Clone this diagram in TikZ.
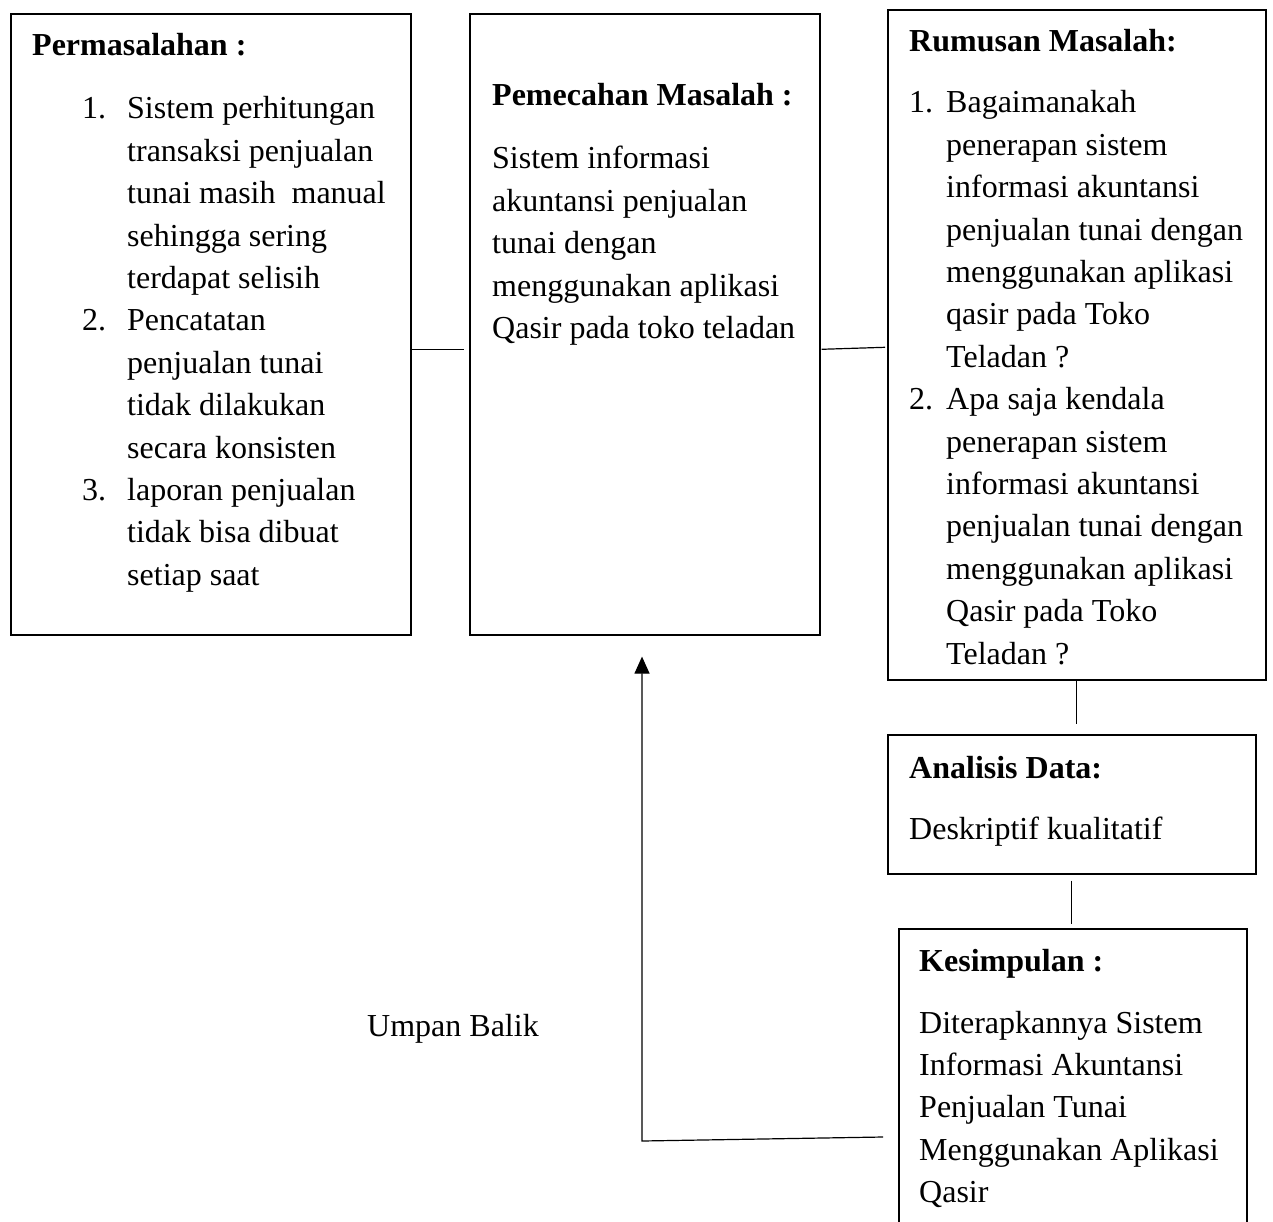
\documentclass[tikz,border=0pt]{standalone}
\usepackage{fontspec}
\setmainfont{Liberation Serif}
\usetikzlibrary{positioning,arrows.meta}

\newcommand{\baris}[1]{\begin{tabular}[t]{@{}l@{}}#1\end{tabular}}

\begin{document}
\begin{tikzpicture}[x=1pt, y=-1pt,
  kotak/.style={draw, line width=1.6pt, inner sep=0pt, anchor=north west},
  teks/.style={inner sep=0pt, anchor=base west, font=\fontsize{32}{42.4}\selectfont},
  judul/.style={teks, font=\fontsize{32}{42.4}\selectfont\bfseries},
  garis/.style={line width=1.2pt}]

  \useasboundingbox (0,0) rectangle (1273,1222);
  \clip (0,0) rectangle (1273,1222);

  % Kotak
  \node (b1) at (10,13) [kotak, minimum width=400pt, minimum height=621pt] {};
  \node (b2) at (469,13) [kotak, minimum width=350pt, minimum height=621pt] {};
  \node (b3) at (887,9) [kotak, minimum width=378pt, minimum height=670pt] {};
  \node (b4) at (887,734) [kotak, minimum width=368pt, minimum height=139pt] {};
  \node (b5) at (898,928) [kotak, minimum width=348pt, minimum height=320pt] {};

  % Permasalahan
  \node (h1) at (32,56) [judul] {Permasalahan :};
  \node (t1) at (82,119) [teks] {\begin{tabular}[t]{@{}p{45pt}@{}l@{}}
    1. & Sistem perhitungan\\
       & transaksi penjualan\\
       & tunai masih\ \ manual\\
       & sehingga sering\\
       & terdapat selisih\\
    2. & Pencatatan\\
       & penjualan tunai\\
       & tidak dilakukan\\
       & secara konsisten\\
    3. & laporan penjualan\\
       & tidak bisa dibuat\\
       & setiap saat
  \end{tabular}};

  % Pemecahan masalah
  \node (h2) at (492,106) [judul] {Pemecahan Masalah :};
  \node (t2) at (492,169) [teks] {\baris{Sistem informasi\\ akuntansi penjualan\\ tunai dengan\\
    menggunakan aplikasi\\ Qasir pada toko teladan}};

  % Rumusan masalah
  \node (h3) at (909,52) [judul] {Rumusan Masalah:};
  \node (t3) at (909,113) [teks] {\begin{tabular}[t]{@{}p{37pt}@{}l@{}}
    1. & Bagaimanakah\\
       & penerapan sistem\\
       & informasi akuntansi\\
       & penjualan tunai dengan\\
       & menggunakan aplikasi\\
       & qasir pada Toko\\
       & Teladan ?\\
    2. & Apa saja kendala\\
       & penerapan sistem\\
       & informasi akuntansi\\
       & penjualan tunai dengan\\
       & menggunakan aplikasi\\
       & Qasir pada Toko\\
       & Teladan ?
  \end{tabular}};

  % Analisis data
  \node (h4) at (909,778) [judul] {Analisis Data:};
  \node (t4) at (909,839) [teks] {Deskriptif kualitatif};

  % Kesimpulan
  \node (h5) at (919,971) [judul] {Kesimpulan :};
  \node (t5) at (919,1033) [teks] {\baris{Diterapkannya Sistem\\ Informasi Akuntansi\\
    Penjualan Tunai\\ Menggunakan Aplikasi\\ Qasir}};

  \node (ub) at (367,1036) [teks] {Umpan Balik};

  % Garis penghubung
  \draw[garis] ([yshift=-25pt]b1.east) -- ([xshift=-5pt, yshift=-25pt]b2.west);
  \draw[garis] ([xshift=1pt, yshift=-25pt]b2.east) -- ([xshift=-2pt, yshift=-2.5pt]b3.west);
  \draw[garis, shorten >=10pt] (b3.south) -- (b3.south |- b4.north);
  \draw[garis, shorten <=6pt, shorten >=4pt] (b4.south) -- (b4.south |- b5.north);

  % Umpan balik
  \coordinate (ujung) at (883,1137);
  \coordinate (sudut) at (642,1141);
  \draw[garis, -{Triangle[length=17pt, width=15pt]}, shorten >=21pt]
    (ujung) -- (sudut) -- (sudut |- b2.south);
\end{tikzpicture}
\end{document}
